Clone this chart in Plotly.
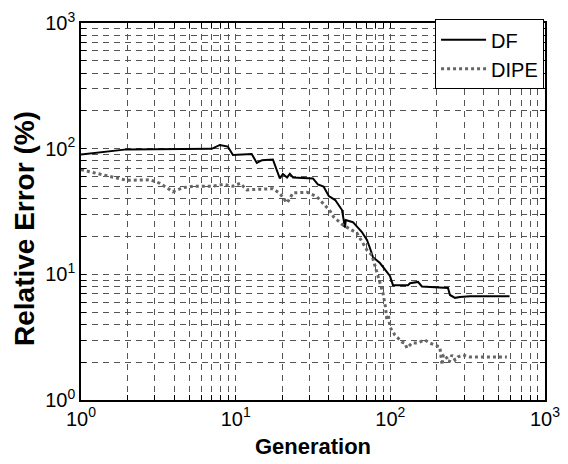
import plotly.graph_objects as go

df_x = [1, 1.97, 7.0, 7.9, 8.9, 9.6, 12.7, 13.7, 14.8, 17.4, 19.3, 20.2, 21.5, 22.4, 23.5, 31.6,
        34.0, 37, 40, 44, 48.7, 50, 50.9, 51.5, 57.3, 65.5, 70.6, 73.8, 77.2, 85.7, 92.3, 99.4,
        104, 130, 134, 144, 151, 160, 188, 236, 243, 262, 282, 327, 590]
df_y = [90, 98.7, 99.7, 107, 104, 89, 90.6, 77, 81, 82, 58, 63, 59, 63, 59, 58,
        52, 50, 42, 39, 32.5, 27, 23.5, 27, 26, 21.7, 18.8, 16.2, 13.7, 12.3, 10.8, 9.7,
        8.2, 8.2, 8.5, 8.6, 8.7, 8.0, 7.96, 7.8, 6.85, 6.5, 6.6, 6.7, 6.7]

dipe_x = [1, 1.97, 2.79, 3.24, 3.93, 4.56, 5.3, 7.1, 8.3, 9.6, 10.7, 11.8, 13.7, 17.4, 19.3,
          21.5, 23.5, 28.9, 33.5, 36.7, 40.7, 43, 49.4, 60.8, 65.5, 70.6, 76, 79.4, 83.1, 85.7,
          89.6, 93, 95, 97, 99.4, 107, 119, 124, 128, 138, 149, 167, 180, 209, 213, 216, 220,
          232, 240, 250, 262, 273, 295, 327, 567]
dipe_y = [68, 56, 56.5, 53, 45.4, 48.9, 50.3, 50.3, 52, 50.3, 53, 47, 47.5, 48, 44,
          37, 44.5, 45, 41.5, 36.9, 32, 28.6, 24.7, 21.3, 18.1, 15.6, 14.2, 11.9, 9.9, 8.5,
          7.1, 5.5, 4.3, 4.8, 3.8, 3.29, 2.89, 2.84, 2.59, 2.84, 2.84, 3.0, 2.84, 2.64, 2.2, 1.9, 2.3,
          2.16, 2.0, 2.28, 2.08, 2.2, 2.28, 2.2, 2.2]

decades = [0, 1, 2, 3]
major_vals = [10 ** d for d in decades]
major_text = ["10<sup>%d</sup>" % d for d in decades]
minor_vals = [m * 10 ** d for d in decades[:-1] for m in range(2, 10)]

x_title = "Generation"
y_title = "Relative Error (%)"

font = "Liberation Sans, Arial, sans-serif"

fig = go.Figure()
fig.add_trace(go.Scatter(x=df_x, y=df_y, mode="lines", name="DF",
                         line=dict(color="black", width=2, shape="linear")))
fig.add_trace(go.Scatter(x=dipe_x, y=dipe_y, mode="lines", name="DIPE",
                         line=dict(color="#666666", width=3, dash="dot")))

axis_common = dict(
    type="log", showline=True, linecolor="black", linewidth=1.5, mirror="ticks",
    ticks="inside", ticklen=5, tickcolor="black", tickwidth=1,
    tickmode="array", tickvals=major_vals, ticktext=major_text, ticklabeloverflow="allow",
    showgrid=True, gridcolor="#555555", gridwidth=1, griddash="6px,5px",
    minor=dict(tickmode="array", tickvals=minor_vals, ticks="inside", ticklen=5,
               tickcolor="black", tickwidth=1, showgrid=True, gridcolor="#555555",
               gridwidth=1, griddash="6px,5px"),
    tickfont=dict(family=font, size=20, color="black"), zeroline=False,
)

fig.update_xaxes(range=[0, 3], title=dict(text="<b>%s</b>" % x_title, font=dict(family=font, size=22, color="black"), standoff=10), **axis_common)
fig.update_yaxes(range=[0, 3], **axis_common)

fig.add_annotation(text="<b>%s</b>" % y_title, textangle=-90, xref="paper", yref="paper",
                   x=-0.123, y=0.456, xanchor="center", yanchor="middle", showarrow=False,
                   font=dict(family=font, size=28, color="black"))

fig.update_layout(
    width=568, height=464,
    margin=dict(l=81, r=23, t=23, b=64, autoexpand=False),
    plot_bgcolor="white", paper_bgcolor="white",
    font=dict(family=font, size=20, color="black"),
    legend=dict(x=0.998, y=1.01, xanchor="right", yanchor="top",
                bgcolor="white", bordercolor="black", borderwidth=1,
                font=dict(family=font, size=20, color="black"),
                tracegroupgap=0, itemwidth=45),
    showlegend=True,
)

fig.write_html("out.html", config={"displayModeBar": False},
               post_script="document.body.style.margin='0';")
